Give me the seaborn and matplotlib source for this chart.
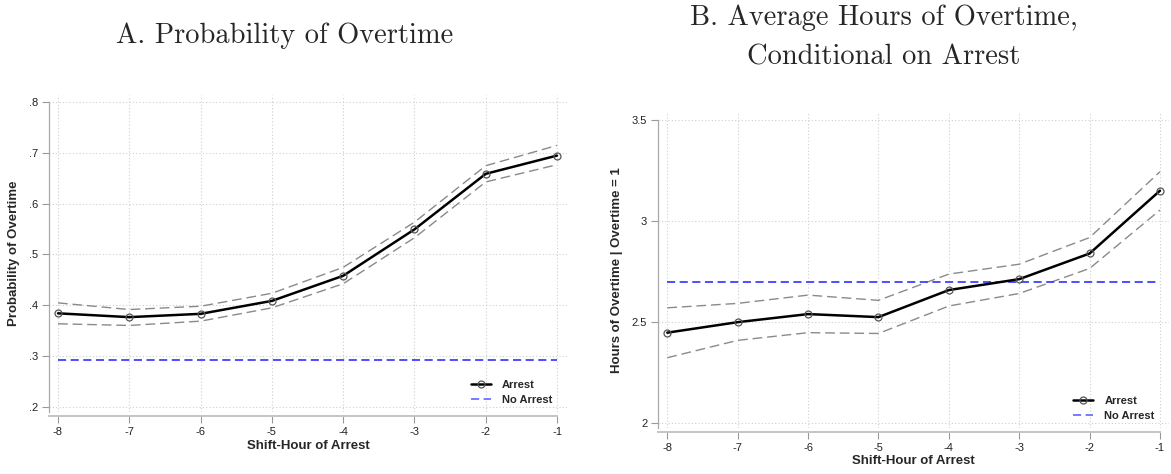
import numpy as np
import pandas as pd
import seaborn as sns
import matplotlib.pyplot as plt
from matplotlib.lines import Line2D

# shift-hour of arrest
hours = [-8, -7, -6, -5, -4, -3, -2, -1]

# panel A: probability of overtime
prob_arrest = [0.384, 0.3765, 0.383, 0.4085, 0.458, 0.5495, 0.659, 0.695]
prob_upper = [0.4046, 0.3915, 0.398, 0.4235, 0.4746, 0.5637, 0.675, 0.715]
prob_lower = [0.3634, 0.3601, 0.3686, 0.3948, 0.4423, 0.533, 0.643, 0.677]
prob_no_arrest = 0.2915
prob_ticks = [0.2, 0.3, 0.4, 0.5, 0.6, 0.7, 0.8]
prob_ticklabels = [".2", ".3", ".4", ".5", ".6", ".7", ".8"]

# panel B: hours of overtime given overtime
hrs_arrest = [2.446, 2.498, 2.538, 2.523, 2.657, 2.711, 2.838, 3.149]
hrs_upper = [2.569, 2.591, 2.632, 2.606, 2.736, 2.785, 2.917, 3.243]
hrs_lower = [2.322, 2.408, 2.446, 2.442, 2.578, 2.640, 2.764, 3.053]
hrs_no_arrest = 2.697
hrs_ticks = [2, 2.5, 3, 3.5]
hrs_ticklabels = ["2", "2.5", "3", "3.5"]

sns.set_style("white")
plt.rcParams['font.family'] = ['Liberation Sans', 'DejaVu Sans']
plt.rcParams['axes.unicode_minus'] = False

W, H = 1171, 474
fig = plt.figure(figsize=(W / 100, H / 100), dpi=100)
axA = fig.add_axes([49 / W, 1 - 412 / H, 518 / W, 317 / H])
axB = fig.add_axes([658.3 / W, 1 - 428 / H, 510.7 / W, 316.3 / H])

blue = '#4040ff'
ci_dash = (0, (7, 3.5))
base_dash = (0, (4.5, 2.5))


def draw_panel(ax, mean, upper, lower, base, ticks, ticklabels, xlim, ylim, ylabel, label_x, xlabel_y):
    df = pd.DataFrame({'hour': hours, 'mean': mean, 'upper': upper,
                       'lower': lower, 'base': [base] * len(hours)})
    ax.grid(True, linestyle=(0, (1, 2)), color='#cfcfcf', lw=0.8)
    ax.set_axisbelow(True)
    # confidence bands
    sns.lineplot(data=df, x='hour', y='upper', ax=ax, color='#8a8a8a', lw=1.0, linestyle=ci_dash)
    sns.lineplot(data=df, x='hour', y='lower', ax=ax, color='#8a8a8a', lw=1.0, linestyle=ci_dash)
    # no-arrest baseline
    sns.lineplot(data=df, x='hour', y='base', ax=ax, color=blue, lw=1.3, linestyle=base_dash)
    # arrest estimates
    sns.lineplot(data=df, x='hour', y='mean', ax=ax, color='black', lw=1.8,
                 marker='o', markersize=5, markerfacecolor='none',
                 markeredgecolor='#555555', markeredgewidth=0.9)

    ax.set_xlim(*xlim)
    ax.set_ylim(*ylim)
    ax.set_xticks(hours)
    ax.set_xticklabels([str(h) for h in hours])
    ax.set_yticks(ticks)
    ax.set_yticklabels(ticklabels)
    ax.tick_params(direction='out', length=5, width=0.8, color='#999999',
                   labelsize=8, labelcolor='#222222', pad=3, left=True, bottom=True)

    sns.despine(ax=ax)
    ax.spines['left'].set_color('#aaaaaa')
    ax.spines['left'].set_linewidth(0.9)
    ax.spines['left'].set_bounds(ylim[0], ticks[-1])
    ax.spines['bottom'].set_color('#c4c4c4')
    ax.spines['bottom'].set_linewidth(1.4)
    ax.spines['bottom'].set_position(('outward', 3))
    ax.spines['bottom'].set_bounds(xlim[0], hours[-1])

    ax.set_xlabel('Shift-Hour of Arrest', fontsize=9.5, fontweight='bold')
    ax.set_ylabel(ylabel, fontsize=9.5, fontweight='bold')
    ax.yaxis.set_label_coords(label_x, 0.5)
    ax.xaxis.set_label_coords(0.5, xlabel_y)

    handles = [Line2D([], [], color='black', lw=1.8, marker='o', markersize=5,
                      markerfacecolor='none', markeredgecolor='#555555', markeredgewidth=0.9),
               Line2D([], [], color='#7070ff', lw=1.3, linestyle=base_dash)]
    leg = ax.legend(handles, ['Arrest', 'No Arrest'], loc='lower right',
                    bbox_to_anchor=(0.972, 0.022), borderaxespad=0, borderpad=0,
                    frameon=False, handlelength=1.8, handletextpad=1.0,
                    labelspacing=0.45, prop={'size': 8, 'weight': 'bold'})
    return leg


draw_panel(axA, prob_arrest, prob_upper, prob_lower, prob_no_arrest,
           prob_ticks, prob_ticklabels, (-8.126, -0.86), (0.1895, 0.8144),
           'Probability of Overtime', -0.056, -0.088)
draw_panel(axB, hrs_arrest, hrs_upper, hrs_lower, hrs_no_arrest,
           hrs_ticks, hrs_ticklabels, (-8.128, -0.872), (1.974, 3.54),
           'Hours of Overtime | Overtime = 1', -0.069, -0.085)

fig.text(285 / W, 1 - 36 / H, 'A. Probability of Overtime', ha='center', va='center',
         family='cmr10', size=20.5)
fig.text(884 / W, 1 - 18 / H, 'B. Average Hours of Overtime,', ha='center', va='center',
         family='cmr10', size=20.5)
fig.text(884 / W, 1 - 57 / H, 'Conditional on Arrest', ha='center', va='center',
         family='cmr10', size=20.5)

fig.savefig('out.png', dpi=100)
